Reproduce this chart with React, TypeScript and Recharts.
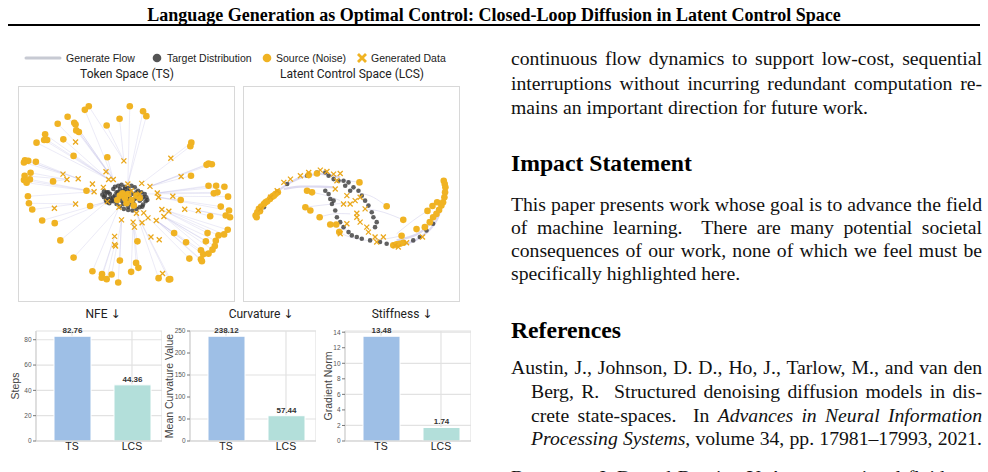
import React from "react";
import {
  ScatterChart,
  Scatter,
  BarChart,
  Bar,
  XAxis,
  YAxis,
  CartesianGrid,
  LabelList,
  Cell,
} from "recharts";

const GOLD = "#f0b323";
const DARK = "#3a3a3a";
const FLOW = "#c4c0e4";
const SANS = "Liberation Sans, Arial, sans-serif";
const SERIF = "Liberation Serif, Times New Roman, serif";

// bar panels
const CATEGORIES = ["TS", "LCS"];
const NFE_STEPS = [82.76, 44.36];
const CURVATURE = [238.12, 57.44];
const STIFFNESS = [13.48, 1.74];
const NFE_TICKS = [0, 20, 40, 60, 80];
const CURV_TICKS = [0, 50, 100, 150, 200, 250];
const STIFF_TICKS = [0, 2, 4, 6, 8, 10, 12, 14];
const BAR_COLORS = ["#9ebfe6", "#b3dfda"];

// token space (TS) scatter, plot units
const TS_SOURCE: [number, number][] = [
  [-11.4, 26.5], [-12.6, 25.4], [1.0, 26.5], [5.0, 25.0], [6.0, 23.5], [-17.8, 23.3],
  [-20.8, 21.2], [-15.8, 21.5], [-15.4, 21.0], [-6.0, 20.7], [-2.1, 22.7], [-15.2, 19.2],
  [-14.4, 18.7], [-24.6, 18.0], [-24.9, 16.3], [-24.0, 16.3], [-27.2, 15.5], [-19.1, 16.5],
  [19.6, 15.5], [19.3, 14.4], [-30.7, 10.2], [-31.0, 9.5], [-29.7, 10.0], [-27.4, 9.7],
  [-16.0, 11.5], [-5.8, 11.1], [-30.8, 5.5], [-29.0, 6.4], [-31.0, 4.2], [-30.2, 3.4],
  [-29.2, 4.4], [-22.2, 3.8], [-29.8, -0.7], [-29.5, -2.8], [-28.5, -4.7], [-25.5, -8.0],
  [-21.7, -8.8], [-11.0, -3.6], [-12.1, 1.0], [-20.0, -14.0],
  [24.8, 9.2], [24.2, 8.8], [25.8, 9.0], [19.5, 5.5], [24.8, 2.5], [27.1, 2.5], [29.6, 2.2],
  [26.4, 0.2], [27.5, 0.5], [30.7, -0.8], [16.4, -1.8], [28.5, -3.8], [31.0, -5.0],
  [30.0, -6.5], [31.3, -7.0], [25.3, -6.7], [30.6, -10.8], [27.8, -12.5], [29.5, -12.2],
  [24.5, -11.8], [24.0, -14.3], [27.0, -14.1], [18.0, -14.6], [26.7, -15.7], [22.5, -17.0],
  [26.0, -16.8], [23.2, -18.2], [24.8, -18.0], [22.5, -19.7], [22.8, -20.3], [19.0, -19.5],
  [14.4, -11.8],
  [-16.0, -19.2], [-10.3, -23.3], [-7.4, -24.2], [-7.5, -25.3], [-6.0, -25.7], [-4.5, -24.3],
  [-2.5, -26.7], [-2.0, -20.1], [1.4, -23.5], [2.9, -20.8], [3.6, -22.3], [3.3, -14.3],
  [9.7, -25.4], [12.8, -25.8], [13.2, -25.7],
  [-2.0, -0.5], [-0.5, -1.2], [0.5, 0.0], [1.5, -1.8], [3.0, -0.5], [0.0, -2.8],
  [-1.2, 0.2], [-2.8, -1.8], [4.0, -1.2], [2.2, -3.5],
];
const TS_GENERATED: [number, number][] = [
  [-15.4, 15.7], [-0.8, 10.0], [13.4, 10.8], [-6.2, 6.7], [-19.2, 6.0], [-18.0, 4.4],
  [-14.6, 4.6], [-5.4, 4.4], [-4.0, 4.4], [-10.3, 3.0], [-9.8, 0.7], [0.4, 3.0], [4.6, 3.2],
  [7.1, 2.3], [9.3, 0.3], [9.7, -1.0], [14.0, -0.7], [16.5, 5.3], [-21.8, -4.3], [-15.4, -3.0],
  [-5.8, -2.3], [-2.3, -4.0], [-1.5, -7.8], [3.0, -5.8], [5.2, -5.7], [6.5, -7.2], [4.7, -8.7],
  [2.0, -8.5], [2.4, -10.0], [9.0, -8.0], [10.7, -4.7], [12.8, -5.2], [11.3, -6.8],
  [17.6, -4.6], [21.7, -5.0], [7.4, -13.0], [9.9, -13.8], [-3.6, -12.8], [-3.6, -15.3],
  [-3.3, -15.7], [10.9, -24.0], [-7.0, 2.0], [4.0, 0.0], [1.5, 1.0],
];
const TS_TARGET: [number, number][] = [
  [-6.5, -0.5], [-6.0, 0.5], [-6.8, -1.0], [-5.5, -1.5], [-5.0, 0.0], [-4.0, 1.5], [-3.5, 2.2],
  [-2.5, 2.5], [-1.5, 2.8], [-0.5, 2.2], [0.5, 1.8], [1.5, 2.5], [2.5, 2.0], [3.5, 1.0],
  [4.5, 0.5], [5.5, 0.0], [6.0, -1.0], [5.8, -2.2], [5.0, -3.2], [4.0, -4.0], [3.0, -4.5],
  [1.8, -5.0], [0.5, -4.8], [-0.8, -4.5], [-2.0, -3.8], [-3.0, -3.0], [-4.0, -2.2],
  [-4.8, -1.2], [-3.5, -0.5], [-2.0, -1.0], [-0.5, -0.5], [1.0, -1.0], [2.5, -1.5],
  [4.0, -2.0], [1.5, -3.0], [0.0, -2.5], [-1.5, -2.0], [-2.5, 0.5], [-1.0, 1.0], [2.0, 0.0],
  [3.5, -0.5], [-6.2, -2.0], [-5.2, -2.8],
  [-4.0, -1.0], [-3.0, 0.5], [-1.0, 0.0], [0.5, -1.5], [2.0, -2.5], [3.0, -1.0], [1.0, 1.0],
  [-2.0, 1.5], [4.5, -1.5], [-4.5, -2.0], [0.0, 0.5], [2.5, -3.5], [-1.0, -3.0], [-3.0, -2.0],
  [1.0, -2.0], [5.0, -1.0], [-5.5, 0.5], [3.0, 0.5], [-0.5, 1.5], [0.5, -3.8], [-7.3, -0.2],
  [-6.8, 0.8], [-5.8, -2.5], [6.3, -1.8], [4.8, -3.8],
];

// latent control space (LCS) scatter, plot units
const LCS_SOURCE: [number, number][] = [
  [-28.9, -6.5], [-28.6, -7.0], [-28.4, -5.5], [-27.9, -4.5], [-27.6, -5.2], [-27.2, -3.8],
  [-26.4, -3.0], [-25.9, -2.5], [-25.4, -2.2], [-24.6, -1.5], [-23.9, -0.8], [-23.4, -0.5],
  [-22.9, 0.0], [-22.2, 0.5], [-13.4, 1.0], [-11.9, 0.5], [-12.9, 5.7], [-10.4, 6.2],
  [-13.9, -4.0], [-12.4, -5.0], [-9.6, -7.0], [-6.4, -9.2], [-4.6, -9.2], [-3.7, -11.5],
  [2.4, 3.5], [10.6, -3.7], [15.6, -7.8], [15.1, -12.6], [19.6, -10.6], [22.9, -5.1],
  [24.4, -3.6], [25.8, -2.5], [27.8, 4.0], [28.1, 3.0], [28.3, 2.0], [28.2, 0.5],
  [28.0, -1.0], [27.6, -2.5], [27.1, -3.5], [26.4, -4.8], [25.6, -6.0], [24.6, -7.0],
  [23.6, -8.5], [22.1, -10.0], [12.6, -15.5], [13.6, -15.2], [14.6, -15.0], [15.6, -14.7],
];
const LCS_GENERATED: [number, number][] = [
  [-18.4, 4.5], [-20.4, 3.5], [-15.4, 5.5], [-12.9, 6.5], [-9.4, 7.2], [-7.4, 6.8],
  [-5.4, 6.0], [-3.4, 6.2], [-4.4, 4.0], [-4.9, 1.5], [-1.4, -0.5], [-0.4, -3.0], [1.1, -2.0],
  [2.6, -1.0], [4.1, -4.5], [1.6, -7.0], [2.6, -8.5], [4.6, -10.0], [5.1, -11.5], [7.1, -13.0],
  [7.6, -14.5], [9.6, -13.0], [13.1, -15.5], [14.1, -16.0], [16.6, -14.7], [21.4, -13.0],
  [-2.4, -3.0], [-3.4, -12.0], [-1.4, -9.0], [1.6, -5.8], [-24.4, -1.0], [-22.4, 1.0],
  [-27.4, -4.5],
];
const LCS_TARGET: [number, number][] = [
  [-7.9, 6.5], [-6.9, 5.5], [-5.4, 4.5], [-3.9, 4.0], [-2.4, 4.0], [-0.9, 3.5], [0.6, 2.0],
  [2.1, 1.0], [3.1, -0.5], [4.1, -2.0], [5.1, -3.5], [6.6, -7.0], [7.6, -8.5], [7.1, -10.0],
  [-7.9, 1.0], [-6.9, 0.0], [-6.4, -1.5], [-5.4, -2.0], [-5.9, -3.0], [-4.9, -5.0],
  [-3.4, -8.5], [-2.4, -10.0], [-0.9, -11.5], [0.1, -12.5], [1.6, -13.0], [3.1, -13.5],
  [5.6, -14.0], [8.6, -14.5], [10.6, -15.0], [18.6, -14.0], [20.6, -13.0], [22.6, -11.0],
  [24.6, -9.0], [-13.4, 5.5], [-10.4, 6.5], [-19.4, 3.0], [-23.4, -0.5], [-26.4, -4.0],
  [-28.4, -6.0], [-1.9, 2.5], [-0.4, 1.0], [6.1, -5.5], [-4.4, -7.0],
];
const LCS_FLOWS: [number, number][][] = [
  [[-23.4, 0], [-18.4, 3.5], [-13.4, 5.5], [-8.4, 6.0], [-3.4, 5.0]],
  [[-20.4, 1.5], [-15.4, 2.2], [-9.4, 2.2], [-5.4, 2.0]],
  [[11.6, -15.5], [16.6, -15.0], [21.6, -12.5], [25.6, -8.0], [27.6, -2.0]],
  [[13.6, -14.0], [19.6, -12.2], [23.6, -9.0], [26.1, -5.0]],
  [[-13.9, -4.0], [-7.4, -3.2], [-1.4, -2.8]],
  [[-9.6, -7.0], [-5.4, -6.0], [-0.4, -6.0]],
  [[10.6, -3.7], [6.6, -1.0], [3.6, 0]],
  [[15.6, -7.8], [9.6, -5.5], [4.6, -4.5]],
  [[2.4, 3.5], [-1.4, 4.0], [-5.4, 4.0]],
  [[-6.4, -9.2], [-3.4, -10.5], [-0.4, -11.0]],
  [[-3.7, -11.5], [-0.4, -13.0], [4.6, -14.0]],
  [[15.1, -12.6], [10.6, -13.5], [6.6, -13.8]],
  [[22.9, -5.1], [18.6, -8.0], [13.6, -12.0]],
  [[-11.9, 0.5], [-7.4, -0.5], [-3.4, -2.0]],
];

const pts = (a: [number, number][]) => a.map(([x, y]) => ({ x, y }));

// each TS source is joined to the generated point lying inward along its direction
function tsFlowEnd([sx, sy]: [number, number]): [number, number] {
  const rs = Math.hypot(sx, sy);
  const as = Math.atan2(sy, sx);
  const angle = (p: [number, number]) => {
    const d = Math.abs(Math.atan2(p[1], p[0]) - as);
    return d > Math.PI ? 2 * Math.PI - d : d;
  };
  let best: [number, number] | null = null;
  let bestD = Infinity;
  for (const g of TS_GENERATED) {
    if (Math.hypot(g[0], g[1]) > rs * 0.85) continue;
    const d = angle(g);
    if (d < bestD) { bestD = d; best = g; }
  }
  if (best && bestD < 0.45) return best;
  let t = TS_TARGET[0];
  let td = Infinity;
  for (const p of TS_TARGET) {
    const d = angle(p);
    if (d < td) { td = d; t = p; }
  }
  return t;
}
const TS_FLOWS: [number, number][][] = TS_SOURCE.map((s) => [s, tsFlowEnd(s)]);

const sourceShape = (p: any) => <circle cx={p.cx} cy={p.cy} r={3.3} fill={GOLD} />;
const targetShape = (p: any) => <circle cx={p.cx} cy={p.cy} r={2.3} fill={DARK} fillOpacity={0.8} />;
const genShape = (p: any) => {
  const s = 2.5;
  return (
    <path
      d={`M${p.cx - s},${p.cy - s}L${p.cx + s},${p.cy + s}M${p.cx - s},${p.cy + s}L${p.cx + s},${p.cy - s}`}
      stroke="#eaa81c"
      strokeWidth={1.3}
    />
  );
};
const noShape = () => <g />;

function FlowPanel({ left, source, generated, target, flows, dx, dy, wide }: any) {
  return (
    <div
      style={{
        position: "absolute", left, top: 86, width: 217, height: 216,
        border: "1px solid #d8d8d8", boxSizing: "border-box",
      }}
    >
      <ScatterChart width={215} height={214} margin={{ top: 0, right: 0, bottom: 0, left: 0 }}>
        <XAxis type="number" dataKey="x" domain={[-dx, dx]} hide allowDataOverflow />
        <YAxis type="number" dataKey="y" domain={[-dy, dy]} hide allowDataOverflow />
        {flows.map((f: [number, number][], i: number) => (
          <Scatter
            key={"f" + i}
            data={pts(f)}
            line={{
              stroke: FLOW,
              strokeWidth: wide && i < 4 ? 2.2 : 0.7,
              strokeOpacity: wide ? 0.6 : 0.45,
            }}
            lineJointType="natural"
            shape={noShape}
            isAnimationActive={false}
          />
        ))}
        <Scatter data={pts(target)} shape={targetShape} isAnimationActive={false} />
        <Scatter data={pts(source)} shape={sourceShape} isAnimationActive={false} />
        <Scatter data={pts(generated)} shape={genShape} isAnimationActive={false} />
      </ScatterChart>
    </div>
  );
}

function MetricChart({ values, ticks, yLabel, left, axisWidth, labelX }: any) {
  const data = CATEGORIES.map((name, i) => ({ name, value: values[i] }));
  const top = Math.max(...values) * 1.05;
  return (
    <div style={{ position: "absolute", left, top: 300 }}>
      <BarChart
        width={axisWidth + 126}
        height={165}
        data={data}
        margin={{ top: 31, right: 0, bottom: 0, left: 0 }}
        barSize={37}
      >
        <CartesianGrid stroke="#e2e2e2" strokeWidth={1.2} />
        <XAxis
          dataKey="name"
          padding={{ left: 6, right: 0 }}
          axisLine={{ stroke: "#cfcfcf" }}
          tickLine={false}
          tickSize={0}
          tickMargin={2}
          height={24}
          tick={{ fontSize: 10.5, fill: "#222", fontFamily: SANS }}
        />
        <YAxis
          width={axisWidth}
          domain={[0, top]}
          ticks={ticks}
          allowDataOverflow
          axisLine={{ stroke: "#cfcfcf" }}
          tickLine={{ stroke: "#777" }}
          tickSize={3}
          tickMargin={1.5}
          tick={{ fontSize: 6.5, fill: "#555", fontFamily: SANS }}
          label={{
            value: yLabel, angle: -90, position: "insideLeft", offset: labelX,
            style: { textAnchor: "middle", fontSize: 10.5, fill: "#444", fontFamily: SANS },
          }}
        />
        <Bar dataKey="value" isAnimationActive={false} stroke="#fff" strokeWidth={1}>
          {data.map((d, i) => (
            <Cell key={d.name} fill={BAR_COLORS[i]} />
          ))}
          <LabelList
            dataKey="value"
            position="top"
            offset={3}
            formatter={(v: any) => Number(v).toFixed(2)}
            style={{ fontSize: 8, fontWeight: 700, fill: "#333", fontFamily: SANS }}
          />
        </Bar>
      </BarChart>
    </div>
  );
}

const abs = (left: number, top: number, extra: React.CSSProperties = {}): React.CSSProperties => ({
  position: "absolute", left, top, whiteSpace: "nowrap", ...extra,
});

const bodyLine = (left: number, top: number, width: number, justify: boolean): React.CSSProperties => ({
  position: "absolute", left, top, width, fontFamily: SERIF, fontSize: 19.7, lineHeight: "24px",
  color: "#111", textAlign: justify ? "justify" : "left", textAlignLast: justify ? "justify" : "left",
  wordSpacing: justify ? -1.5 : 0,
});

const Arrow = () => <span style={{ fontFamily: "DejaVu Sans, sans-serif", fontSize: 12 }}>↓</span>;

export default function App() {
  const legendText: React.CSSProperties = { fontFamily: SANS, fontSize: 10.5, color: "#222", lineHeight: "12px" };
  const panelTitle: React.CSSProperties = { fontFamily: "Roboto, sans-serif", fontSize: 12, color: "#222", lineHeight: "14px", transform: "translateX(-50%)" };
  return (
    <div style={{ position: "fixed", left: 0, top: 0, width: 988, height: 472, overflow: "hidden", background: "#fff" }}>
      {/* running head */}
      <div style={{ position: "absolute", left: 0, top: 5, width: 988, textAlign: "center", fontFamily: SERIF, fontWeight: 700, fontSize: 18, lineHeight: "20px", color: "#000" }}>
        Language Generation as Optimal Control: Closed-Loop Diffusion in Latent Control Space
      </div>
      <div style={{ position: "absolute", left: 8, top: 24, width: 972, height: 2, background: "#000" }} />

      {/* figure legend */}
      <svg style={{ position: "absolute", left: 0, top: 48 }} width={470} height={20}>
        <line x1={26} y1={10} x2={60} y2={10} stroke="#c7cad3" strokeWidth={3} strokeLinecap="round" />
        <circle cx={157} cy={10} r={4.3} fill="#555" />
        <circle cx={267} cy={10} r={4.3} fill={GOLD} />
        <path d="M358,6L366,14M358,14L366,6" stroke={GOLD} strokeWidth={2.8} />
      </svg>
      <div style={abs(66, 52, legendText)}>Generate Flow</div>
      <div style={abs(167, 52, legendText)}>Target Distribution</div>
      <div style={abs(276, 52, legendText)}>Source (Noise)</div>
      <div style={abs(371, 52, legendText)}>Generated Data</div>

      <div style={abs(127, 67, panelTitle)}>Token Space (TS)</div>
      <div style={abs(352, 67, panelTitle)}>Latent Control Space (LCS)</div>

      <FlowPanel left={18} source={TS_SOURCE} generated={TS_GENERATED} target={TS_TARGET} flows={TS_FLOWS} dx={32.5} dy={32.3} />
      <FlowPanel left={243} source={LCS_SOURCE} generated={LCS_GENERATED} target={LCS_TARGET} flows={LCS_FLOWS} dx={32.4} dy={32.3} wide />

      <div style={abs(103, 307, panelTitle)}>NFE <Arrow /></div>
      <div style={abs(261, 307, panelTitle)}>Curvature <Arrow /></div>
      <div style={abs(402, 307, panelTitle)}>Stiffness <Arrow /></div>

      <MetricChart values={NFE_STEPS} ticks={NFE_TICKS} yLabel="Steps" left={0} axisWidth={36} labelX={15.5} />
      <MetricChart values={CURVATURE} ticks={CURV_TICKS} yLabel="Mean Curvature Value" left={150} axisWidth={40} labelX={19} />
      <MetricChart values={STIFFNESS} ticks={STIFF_TICKS} yLabel="Gradient Norm" left={305} axisWidth={40} labelX={23} />

      {/* right column text */}
      <div style={bodyLine(511, 46, 471, true)}>continuous flow dynamics to support low-cost, sequential</div>
      <div style={bodyLine(511, 71, 471, true)}>interruptions without incurring redundant computation re-</div>
      <div style={bodyLine(511, 95, 471, false)}>mains an important direction for future work.</div>

      <div style={abs(511, 149, { fontFamily: SERIF, fontWeight: 700, fontSize: 23.7, lineHeight: "28px", color: "#000" })}>Impact Statement</div>

      <div style={bodyLine(511, 192, 471, true)}>This paper presents work whose goal is to advance the field</div>
      <div style={bodyLine(511, 215, 471, true)}>of machine learning.&nbsp; There are many potential societal</div>
      <div style={bodyLine(511, 238, 471, true)}>consequences of our work, none of which we feel must be</div>
      <div style={bodyLine(511, 261, 471, false)}>specifically highlighted here.</div>

      <div style={abs(511, 316, { fontFamily: SERIF, fontWeight: 700, fontSize: 23.7, lineHeight: "28px", color: "#000" })}>References</div>

      <div style={bodyLine(511, 355, 471, true)}>Austin, J., Johnson, D. D., Ho, J., Tarlow, M., and van den</div>
      <div style={bodyLine(531, 379, 451, true)}>Berg, R.&nbsp; Structured denoising diffusion models in dis-</div>
      <div style={bodyLine(531, 403, 451, true)}>crete state-spaces.&nbsp; In <i>Advances in Neural Information</i></div>
      <div style={bodyLine(531, 426, 451, true)}><i>Processing Systems</i>, volume 34, pp. 17981–17993, 2021.</div>
      <div style={bodyLine(511, 465, 471, true)}>Benamou, J.-D. and Brenier, Y. A computational fluid me-</div>
    </div>
  );
}
